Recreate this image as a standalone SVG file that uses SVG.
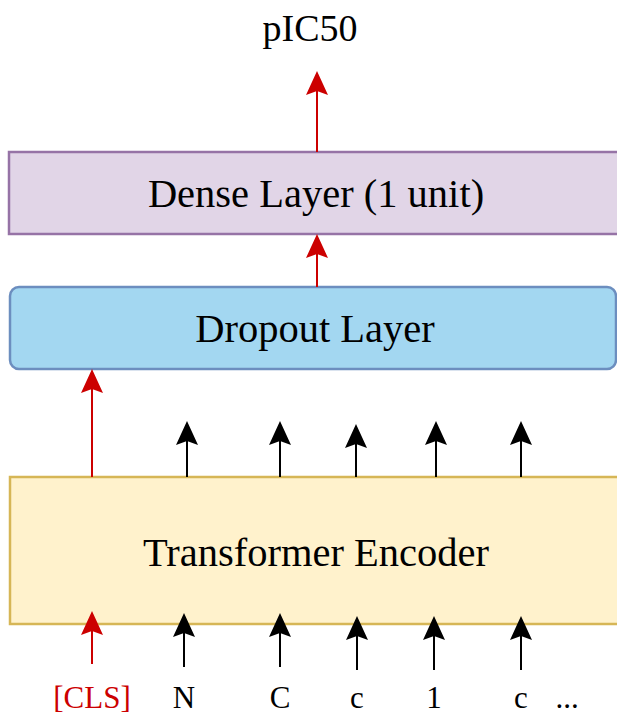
<svg xmlns="http://www.w3.org/2000/svg" width="617" height="715" viewBox="0 0 617 715">
<style>
text{font-family:"Liberation Serif","Times New Roman",serif;fill:#000;text-anchor:middle}
.big{font-size:40.5px}
.top{font-size:38px}
.tok{font-size:31px}
.red{stroke:#cc0000;stroke-width:2;fill:none}
.blk{stroke:#000;stroke-width:2;fill:none}
</style>
<defs>
<marker id="ar" viewBox="0 0 24 22" refX="4" refY="11" markerWidth="24" markerHeight="22" markerUnits="userSpaceOnUse" orient="auto">
<path d="M0,0 L24,11 L0,22 L4,11 Z" fill="#cc0000"/>
</marker>
<marker id="ab" viewBox="0 0 24 22" refX="4" refY="11" markerWidth="24" markerHeight="22" markerUnits="userSpaceOnUse" orient="auto">
<path d="M0,0 L24,11 L0,22 L4,11 Z" fill="#000"/>
</marker>
</defs>
<g id="output">
<text class="top" x="310" y="41">pIC50</text>
</g>
<g id="dense">
<rect x="9" y="152" width="616" height="82" fill="#e1d5e7" stroke="#9673a6" stroke-width="2.5"/>
<text class="big" x="316" y="207">Dense Layer (1 unit)</text>
</g>
<g id="dropout">
<rect x="10" y="287" width="606" height="82" rx="9" fill="#a3d7f1" stroke="#6c8ebf" stroke-width="2.5"/>
<text class="big" x="315" y="342">Dropout Layer</text>
</g>
<g id="encoder">
<rect x="10" y="477" width="616" height="147" fill="#fff2cc" stroke="#d6b656" stroke-width="2.5"/>
<text class="big" x="316" y="566">Transformer Encoder</text>
</g>
<g id="tokens">
<text class="tok" x="92" y="708" style="fill:#cc0000">[CLS]</text>
<text class="tok" x="184" y="708">N</text>
<text class="tok" x="280" y="708">C</text>
<text class="tok" x="357" y="708">c</text>
<text class="tok" x="434" y="708">1</text>
<text class="tok" x="521" y="708">c</text>
<text class="tok" x="567" y="708">...</text>
</g>
<g id="connectors">
<line class="red" x1="317" y1="152" x2="317" y2="91" marker-end="url(#ar)"/>
<line class="red" x1="317" y1="287" x2="317" y2="254" marker-end="url(#ar)"/>
<line class="red" x1="92" y1="477" x2="92" y2="389" marker-end="url(#ar)"/>
<line class="blk" x1="187" y1="477" x2="187" y2="441" marker-end="url(#ab)"/>
<line class="blk" x1="280" y1="477" x2="280" y2="441" marker-end="url(#ab)"/>
<line class="blk" x1="356" y1="477" x2="356" y2="444" marker-end="url(#ab)"/>
<line class="blk" x1="436" y1="477" x2="436" y2="441" marker-end="url(#ab)"/>
<line class="blk" x1="521" y1="477" x2="521" y2="441" marker-end="url(#ab)"/>
<line class="red" x1="92" y1="664" x2="92" y2="631" marker-end="url(#ar)"/>
<line class="blk" x1="184" y1="667" x2="184" y2="633" marker-end="url(#ab)"/>
<line class="blk" x1="280" y1="667" x2="280" y2="633" marker-end="url(#ab)"/>
<line class="blk" x1="357" y1="670" x2="357" y2="636" marker-end="url(#ab)"/>
<line class="blk" x1="434" y1="670" x2="434" y2="636" marker-end="url(#ab)"/>
<line class="blk" x1="521" y1="670" x2="521" y2="636" marker-end="url(#ab)"/>
</g>
</svg>
